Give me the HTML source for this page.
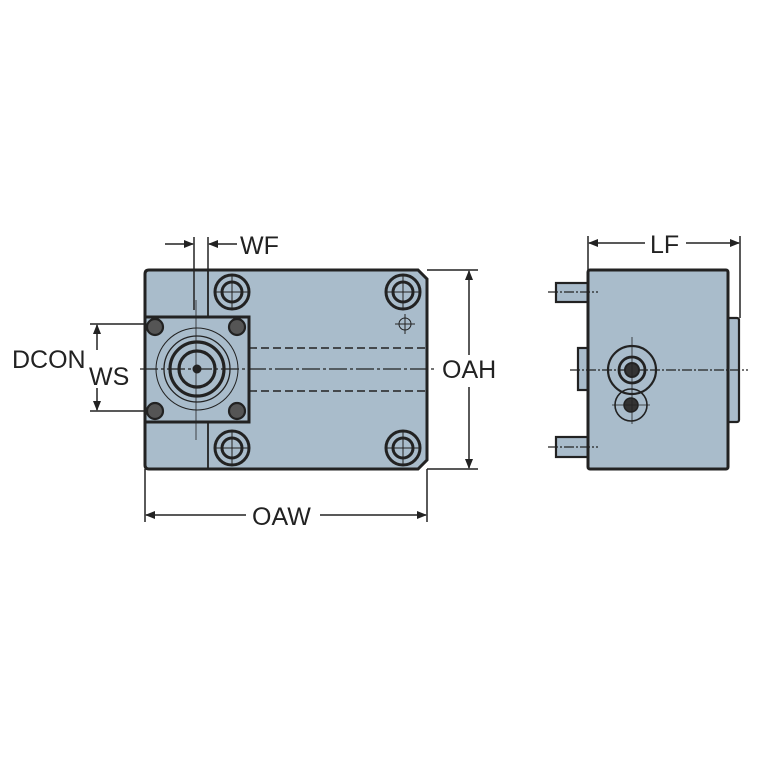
<!DOCTYPE html>
<html><head><meta charset="utf-8"><style>html,body{margin:0;padding:0;background:#fff}svg{display:block}</style></head>
<body>
<svg width="767" height="767" viewBox="0 0 767 767" xmlns="http://www.w3.org/2000/svg" font-family="Liberation Sans, sans-serif">
<defs>
<marker id="a" markerWidth="10" markerHeight="8" refX="9" refY="4" orient="auto" markerUnits="userSpaceOnUse"><path d="M0,0 L10,4 L0,8 z" fill="#222"/></marker>
</defs>
<rect width="767" height="767" fill="#fff"/>
<g stroke="#222" fill="none">
<path d="M149,270 H418 L427,279 V460 L418,469 H149 Q145,469 145,465 V274 Q145,270 149,270 Z" fill="#a9bccb" stroke-width="3"/>
<line x1="208" y1="270" x2="208" y2="469" stroke-width="1.8"/>
<rect x="145" y="317" width="104" height="105" fill="#a9bccb" stroke-width="3"/>
<line x1="249" y1="348" x2="427" y2="348" stroke-dasharray="8,4" stroke-width="1.4"/>
<line x1="249" y1="391" x2="427" y2="391" stroke-dasharray="8,4" stroke-width="1.4"/>
<line x1="140" y1="369" x2="436" y2="369" stroke-dasharray="18,3,3,3" stroke-width="1.2"/>
<line x1="196" y1="300" x2="196" y2="440" stroke-width="0.8"/>
<circle cx="197" cy="369" r="41" stroke-width="1"/>
<circle cx="197" cy="369" r="33" stroke-width="1.3"/>
<circle cx="197" cy="369" r="27" stroke-width="3.2"/>
<circle cx="197" cy="369" r="18" stroke-width="3.2"/>
<circle cx="197" cy="369" r="4" fill="#222"/>
<g stroke-width="3" fill="#a9bccb">
<circle cx="232" cy="292" r="17"/><circle cx="232" cy="292" r="10"/>
<circle cx="403" cy="292" r="17"/><circle cx="403" cy="292" r="10"/>
<circle cx="232" cy="448" r="17"/><circle cx="232" cy="448" r="10"/>
<circle cx="403" cy="448" r="17"/><circle cx="403" cy="448" r="10"/>
</g>
<g fill="#555" stroke-width="2.2">
<circle cx="155" cy="327" r="8"/><circle cx="237" cy="327" r="8"/>
<circle cx="155" cy="411" r="8"/><circle cx="237" cy="411" r="8"/>
</g>
<g stroke-width="1">
<path d="M214,292 H250 M232,274 V310 M385,292 H421 M403,274 V310 M214,448 H250 M232,430 V466 M385,448 H421 M403,430 V466"/>
<circle cx="405" cy="324" r="6"/><path d="M395,324 H415 M405,314 V334"/>
</g>
<rect x="556" y="283" width="32" height="19" fill="#a9bccb" stroke-width="2.2"/>
<rect x="556" y="437" width="32" height="20" fill="#a9bccb" stroke-width="2.2"/>
<rect x="578" y="348" width="10" height="42" fill="#a9bccb" stroke-width="2.2"/>
<rect x="726" y="318" width="13" height="104" rx="2" fill="#a9bccb" stroke-width="2.2"/>
<rect x="588" y="270" width="140" height="199" rx="2" fill="#a9bccb" stroke-width="3"/>
<path d="M548,292 H598 M548,447 H598 M570,370 H748" stroke-dasharray="10,2,2,2" stroke-width="1.2"/>
<circle cx="632" cy="370" r="24" stroke-width="2.2"/>
<circle cx="632" cy="370" r="13" stroke-width="2.8"/>
<circle cx="632" cy="370" r="7" fill="#333" stroke-width="2"/>
<circle cx="631" cy="405" r="16" stroke-width="1.6"/>
<circle cx="631" cy="405" r="7" fill="#333" stroke-width="1.5"/>
<path d="M632,337 V424 M612,405 H650" stroke-width="0.8"/>
<g stroke-width="1.5">
<line x1="194" y1="237" x2="194" y2="310"/>
<line x1="208" y1="237" x2="208" y2="270"/>
<line x1="165" y1="244" x2="193" y2="244" marker-end="url(#a)"/>
<line x1="237" y1="244" x2="209" y2="244" marker-end="url(#a)"/>
<line x1="588" y1="236" x2="588" y2="270"/>
<line x1="740" y1="236" x2="740" y2="318"/>
<line x1="645" y1="243" x2="589" y2="243" marker-end="url(#a)"/>
<line x1="686" y1="243" x2="739" y2="243" marker-end="url(#a)"/>
<line x1="427" y1="270" x2="478" y2="270"/>
<line x1="427" y1="469" x2="478" y2="469"/>
<line x1="469" y1="355" x2="469" y2="271" marker-end="url(#a)"/>
<line x1="469" y1="387" x2="469" y2="468" marker-end="url(#a)"/>
<line x1="145" y1="469" x2="145" y2="522"/>
<line x1="427" y1="469" x2="427" y2="522"/>
<line x1="246" y1="515" x2="146" y2="515" marker-end="url(#a)"/>
<line x1="320" y1="515" x2="426" y2="515" marker-end="url(#a)"/>
<line x1="90" y1="324" x2="145" y2="324"/>
<line x1="90" y1="411" x2="145" y2="411"/>
<line x1="97" y1="350" x2="97" y2="325" marker-end="url(#a)"/>
<line x1="97" y1="388" x2="97" y2="410" marker-end="url(#a)"/>
</g>
</g>
<g fill="#222" font-size="25">
<text x="240" y="254">WF</text>
<text x="650" y="253">LF</text>
<text x="442" y="378">OAH</text>
<text x="252" y="525">OAW</text>
<text x="12" y="368">DCON</text>
<text x="89" y="385">WS</text>
</g>
</svg>
</body></html>
